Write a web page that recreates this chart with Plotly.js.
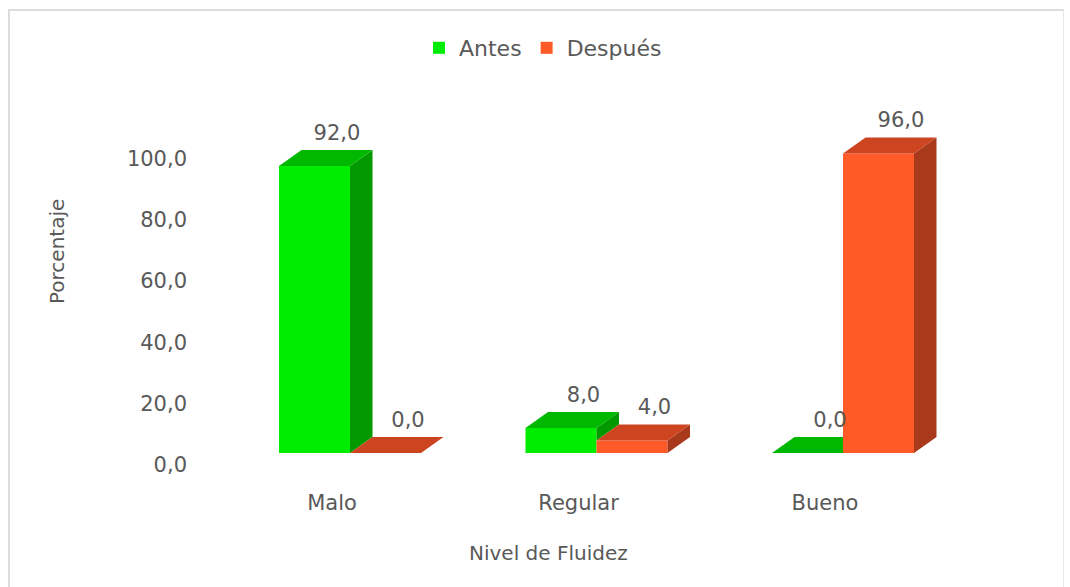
<!DOCTYPE html>
<html>
<head>
<meta charset="utf-8">
<script src="https://cdn.plot.ly/plotly-3.0.1.min.js"></script>
<style>
  html, body { margin: 0; padding: 0; background: #ffffff; }
  #wrap { position: relative; width: 1070px; height: 587px; overflow: hidden; }
  #chart { position: absolute; left: 0; top: 0; width: 1070px; height: 587px; }
  #frame { position: absolute; left: 8px; top: 9px; width: 1053px; height: 600px;
           border-left: 2px solid #dcdcdc; border-top: 2px solid #dcdcdc; border-right: 1px solid #e6e6e6;
           pointer-events: none; }
</style>
</head>
<body>
<div id="wrap"><div id="chart"></div><div id="frame"></div></div>
<script>
// ---- data ----
const categories = ['Malo', 'Regular', 'Bueno'];
const antes = [92.0, 8.0, 0.0];
const despues = [0.0, 4.0, 96.0];
const seriesNames = ['Antes', 'Después'];
const yTicks = [0, 20, 40, 60, 80, 100];
const xTitle = 'Nivel de Fluidez';
const yTitle = 'Porcentaje';

// ---- layout constants (pixels) ----
const W = 1070, H = 587;
const L = 200, R = 60, T = 100, B = 107;
const plotW = W - L - R, plotH = H - T - B;
const X0PX = 350, XUNIT = 246.5;          // pixel of category 0, px per category
const Y0PX = 453, YUNIT = 3.12;           // bar baseline pixel, px per percent (front faces)
const Y0T = 465, YUNIT_T = 3.067;         // tick labels sit on the back wall scale
const DX = 22.5 / XUNIT, DY = 16 / YUNIT; // 3D depth offset
const BW = 71 / XUNIT;                    // bar width
const LABEL_PAD = 5 / YUNIT;

const xRange = [(L - X0PX) / XUNIT, (W - R - X0PX) / XUNIT];
const yRange = [-(H - B - Y0PX) / YUNIT, (Y0PX - T) / YUNIT];
// where each wall tick falls on the bar scale
const tickPos = yTicks.map(t => (Y0PX - Y0T + t * YUNIT_T) / YUNIT);

const colors = {
  Antes:   { front: '#00EC00', top: '#00B800', side: '#009A00' },
  Despues: { front: '#FF5A28', top: '#CC4520', side: '#A8391B' }
};
const fmt = v => v.toFixed(1).replace('.', ',');
const FONT = 'DejaVu Sans, Arial, sans-serif';
const TXT = '#595959';

const series = [
  { name: seriesNames[0], vals: antes, other: despues, off: -BW, c: colors.Antes },
  { name: seriesNames[1], vals: despues, other: null, off: 0, c: colors.Despues }
];

const traces = [];
series.forEach(s => {
  const sx = [], sy = [];
  const tx = [], ty = [];
  s.vals.forEach((v, i) => {
    const xl = i + s.off, xr = xl + BW;
    const o = s.other ? s.other[i] : 0;
    // side face: visible only above the right-hand neighbour
    if (v > o) {
      sx.push(xr, xr, xr + DX, xr + DX, xr, null);
      sy.push(o, v, v + DY, o + DY, o, null);
    }
    // top face, clipped where a taller neighbour's front hides it
    if (s.other && o > v) {
      tx.push(xl, xr, xr, xl + DX, xl, null);
      ty.push(v, v, v + DY, v + DY, v, null);
    } else {
      tx.push(xl, xr, xr + DX, xl + DX, xl, null);
      ty.push(v, v, v + DY, v + DY, v, null);
    }
  });
  traces.push({
    type: 'bar', name: s.name, x: categories.map((c, i) => i), y: s.vals,
    width: BW, offset: s.off, marker: { color: s.c.front, line: { width: 0 } },
    showlegend: true, hoverinfo: 'skip'
  });
  traces.push({
    type: 'scatter', mode: 'lines', x: sx, y: sy, fill: 'toself', fillcolor: s.c.side,
    line: { width: 0, color: s.c.side }, showlegend: false, hoverinfo: 'skip'
  });
  traces.push({
    type: 'scatter', mode: 'lines', x: tx, y: ty, fill: 'toself', fillcolor: s.c.top,
    line: { width: 0, color: s.c.top }, showlegend: false, hoverinfo: 'skip'
  });
  traces.push({
    type: 'scatter', mode: 'text', x: s.vals.map((v, i) => i + s.off + BW / 2 + DX),
    y: s.vals.map(v => v + DY + LABEL_PAD), text: s.vals.map(fmt), textposition: 'top center',
    textfont: { family: FONT, size: 21, color: TXT }, cliponaxis: false,
    showlegend: false, hoverinfo: 'skip'
  });
});

const layout = {
  width: W, height: H,
  margin: { l: L, r: R, t: T, b: B },
  paper_bgcolor: 'rgba(0,0,0,0)', plot_bgcolor: 'rgba(0,0,0,0)',
  barmode: 'overlay',
  separators: ',.',
  font: { family: FONT, color: TXT, size: 20 },
  showlegend: true,
  legend: {
    orientation: 'h', xref: 'container', yref: 'container',
    x: 543 / W, xanchor: 'center', y: 1 - 48 / H, yanchor: 'middle',
    font: { family: FONT, size: 22, color: TXT }, traceorder: 'normal'
  },
  xaxis: {
    range: xRange, tickvals: categories.map((c, i) => i), ticktext: categories,
    showgrid: false, zeroline: false, showline: false, ticks: '',
    ticklabelshift: -18, ticklabelstandoff: 8,
    tickfont: { family: FONT, size: 21, color: TXT }, fixedrange: true
  },
  yaxis: {
    range: yRange, tickvals: tickPos, ticktext: yTicks.map(fmt),
    showgrid: false, zeroline: false, showline: false, ticks: '',
    ticklabelstandoff: 12,
    tickfont: { family: FONT, size: 21, color: TXT }, fixedrange: true
  },
  annotations: [
    { text: xTitle, xref: 'paper', yref: 'paper', x: (548 - L) / plotW, y: -(553 - (H - B)) / plotH,
      xanchor: 'center', yanchor: 'middle', showarrow: false,
      font: { family: FONT, size: 20, color: TXT } },
    { text: yTitle, xref: 'paper', yref: 'paper', x: (57 - L) / plotW, y: ((H - B) - 252) / plotH,
      xanchor: 'center', yanchor: 'middle', textangle: -90, showarrow: false,
      font: { family: FONT, size: 20, color: TXT } }
  ]
};

Plotly.newPlot('chart', traces, layout, { displayModeBar: false, staticPlot: true });
</script>
</body>
</html>
